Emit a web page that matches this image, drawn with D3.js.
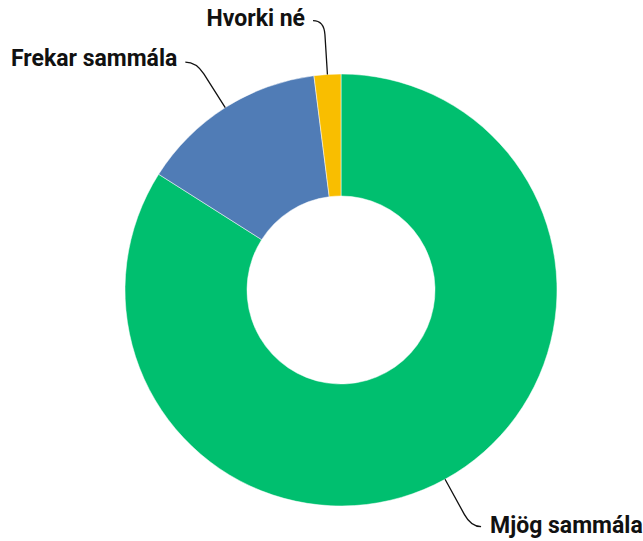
<!DOCTYPE html>
<html>
<head>
<meta charset="utf-8">
<script src="https://cdn.jsdelivr.net/npm/d3@7"></script>
<style>
  body { margin: 0; background: #fff; }
  .lbl { font-family: Roboto, "Open Sans", sans-serif; font-weight: bold; font-size: 23px; fill: #111; }
</style>
</head>
<body>
<div id="chart"></div>
<script>
// data
var labels = ["Mjög sammála", "Frekar sammála", "Hvorki né"];
var values = [84, 14, 2];
var colors = ["#00bf6f", "#507cb6", "#f9be00"];

var width = 643, height = 541;
var cx = 341, cy = 290;
var outer = 216, inner = 94;

var svg = d3.select("#chart").append("svg")
    .attr("width", width)
    .attr("height", height);

var g = svg.append("g")
    .attr("transform", "translate(" + cx + "," + cy + ")");

var pie = d3.pie().sort(null).value(function(d) { return d; });
var arcs = pie(values);

var arc = d3.arc().innerRadius(inner).outerRadius(outer);

g.selectAll("path.slice")
    .data(arcs)
    .enter().append("path")
    .attr("class", "slice")
    .attr("d", arc)
    .attr("fill", function(d, i) { return colors[i]; })
    .attr("stroke", "#fff")
    .attr("stroke-width", 0.5);

// leader lines: from outer edge along mid angle, then bend to horizontal
var leader = [
  {elbow: 270, dx: 10, tx: 9, ty: 6.5},    // Mjög - right side
  {elbow: 270, dx: -11, tx: -8, ty: 4},    // Frekar - left
  {elbow: 270, dx: -11, tx: -8, ty: 5.5}   // Hvorki - left
];

function pt(a, r) { return [r * Math.sin(a), -r * Math.cos(a)]; }

arcs.forEach(function(d, i) {
  var a = (d.startAngle + d.endAngle) / 2;
  var p0 = pt(a, outer);
  var pe = pt(a, leader[i].elbow);
  var end = [pe[0] + leader[i].dx, pe[1]];
  var near = pt(a, leader[i].elbow - 14);
  var path = d3.path();
  path.moveTo(p0[0], p0[1]);
  path.lineTo(near[0], near[1]);
  path.quadraticCurveTo(pe[0], pe[1], end[0], end[1]);
  g.append("path")
      .attr("d", path.toString())
      .attr("fill", "none")
      .attr("stroke", "#111")
      .attr("stroke-width", 1.3);
  g.append("text")
      .attr("class", "lbl")
      .attr("x", end[0] + leader[i].tx)
      .attr("y", end[1] + leader[i].ty)
      .attr("text-anchor", leader[i].dx > 0 ? "start" : "end")
      .text(labels[i]);
});
</script>
</body>
</html>
